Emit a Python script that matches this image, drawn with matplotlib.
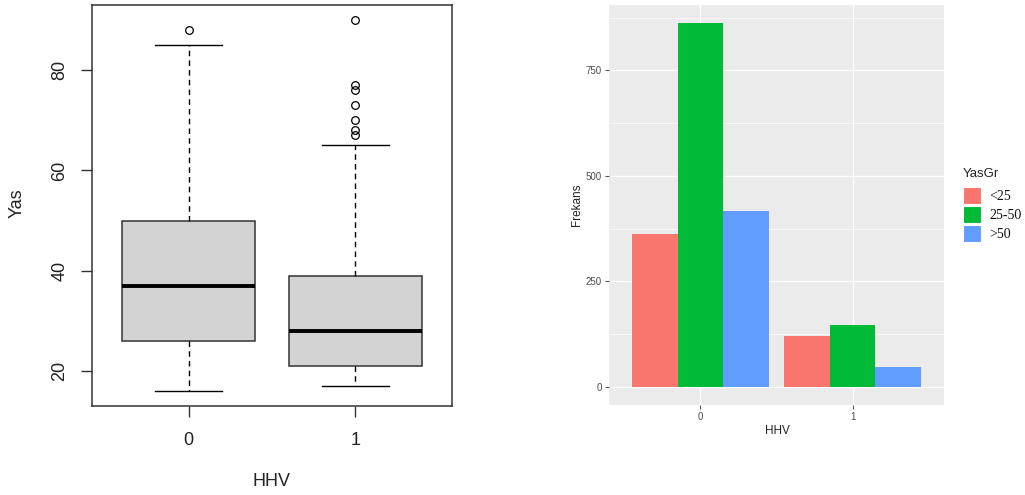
import matplotlib
matplotlib.use("Agg")
import matplotlib.pyplot as plt
import numpy as np

plt.rcParams["font.family"] = ["Liberation Sans", "DejaVu Sans"]

# ---- data ----
groups = ["0", "1"]

# boxplot summary of age (Yas) by HHV
whisker_low = [16, 17]
q1 = [26, 21]
median = [37, 28]
q3 = [50, 39]
whisker_high = [85, 65]
outliers = [[88], [67, 68, 70, 73, 76, 77, 90]]

# frequency of age groups by HHV
age_groups = ["<25", "25-50", ">50"]
freq_hhv0 = [363, 862, 417]
freq_hhv1 = [120, 147, 46]
colors = ["#F8766D", "#00BA38", "#619CFF"]

W, H = 1025, 495
fig = plt.figure(figsize=(W / 100, H / 100), dpi=100)
fig.patch.set_facecolor("white")


def px_axes(x0, y0, x1, y1):
    return fig.add_axes([x0 / W, 1 - y1 / H, (x1 - x0) / W, (y1 - y0) / H])


# ---------------- left: base-R style boxplot ----------------
ax = px_axes(92, 5, 452, 406)
stats = []
for i in range(len(groups)):
    stats.append(dict(whislo=whisker_low[i], q1=q1[i], med=median[i],
                      q3=q3[i], whishi=whisker_high[i], fliers=outliers[i]))
ax.bxp(stats, positions=[1, 2], widths=0.8, capwidths=0.4, patch_artist=True,
       boxprops=dict(facecolor="#D3D3D3", edgecolor="#333333", linewidth=1.1),
       medianprops=dict(color="black", linewidth=2.8, solid_capstyle="butt"),
       whiskerprops=dict(color="black", linewidth=1.0, linestyle=(0, (4, 3))),
       capprops=dict(color="black", linewidth=1.0),
       flierprops=dict(marker="o", markerfacecolor="none", markeredgecolor="black",
                       markersize=5.5, markeredgewidth=0.9))
ax.set_xlim(0.42, 2.58)
ax.set_ylim(13.04, 92.96)
ax.set_yticks([20, 40, 60, 80])
ax.set_xticks([1, 2])
ax.set_xticklabels(groups)
for s in ax.spines.values():
    s.set_color("#333333")
    s.set_linewidth(1.1)
ax.tick_params(axis="both", length=8, width=1.0, color="#333333",
               labelsize=13, labelcolor="#222222")
ax.tick_params(axis="y", labelrotation=90, pad=9)
ax.tick_params(axis="x", pad=11)
for lab in ax.get_yticklabels():
    lab.set_va("center")
fig.text(17 / W, 1 - 203 / H, "Yas", rotation=90, ha="center", va="center",
         fontsize=13, color="#222222")
fig.text(271 / W, 1 - 482 / H, "HHV", ha="center", va="center",
         fontsize=13, color="#222222")

# ---------------- right: ggplot-style dodged bars ----------------
bx = px_axes(609, 5, 944, 405)
bx.set_facecolor("#EBEBEB")
x = np.arange(len(groups))
bw = 0.3
for k, (lab, c) in enumerate(zip(age_groups, colors)):
    vals = [freq_hhv0[k], freq_hhv1[k]]
    bx.bar(x + (k - 1) * bw, vals, width=bw, color=c, label=lab,
           edgecolor="none", zorder=3)
bx.set_xlim(-0.6, 1.6)
bx.set_ylim(-43.1, 905.1)
bx.set_yticks([0, 250, 500, 750])
bx.set_yticks([125, 375, 625, 875], minor=True)
bx.set_xticks(x)
bx.set_xticklabels(groups)
bx.grid(True, which="major", color="white", linewidth=1.0, zorder=0)
bx.grid(True, which="minor", axis="y", color="white", linewidth=0.5, zorder=0)
bx.set_axisbelow(True)
for s in bx.spines.values():
    s.set_visible(False)
bx.tick_params(axis="both", which="major", length=3, width=0.8, color="#555555",
               labelsize=7, labelcolor="#4D4D4D", pad=2)
bx.tick_params(axis="y", which="minor", length=0)
fig.text(577 / W, 1 - 205 / H, "Frekans", rotation=90, ha="center", va="center",
         fontsize=8.5, color="#222222")
fig.text(777 / W, 1 - 431 / H, "HHV", ha="center", va="center",
         fontsize=8.5, color="#222222")

# legend
fig.text(963 / W, 1 - 174 / H, "YasGr", ha="left", va="center",
         fontsize=9.5, color="#222222")
key_top = [187, 206, 225]
for c, lab, yt in zip(colors, age_groups, key_top):
    fig.patches.append(plt.Rectangle((963 / W, 1 - (yt + 17) / H), 18 / W, 17 / H,
                                     transform=fig.transFigure, facecolor=c,
                                     edgecolor="white", linewidth=0.8))
    fig.text(989 / W, 1 - (yt + 10) / H, lab, ha="left", va="center",
             fontsize=10, family="Liberation Serif", color="#111111")

fig.savefig("out.png", dpi=100)
